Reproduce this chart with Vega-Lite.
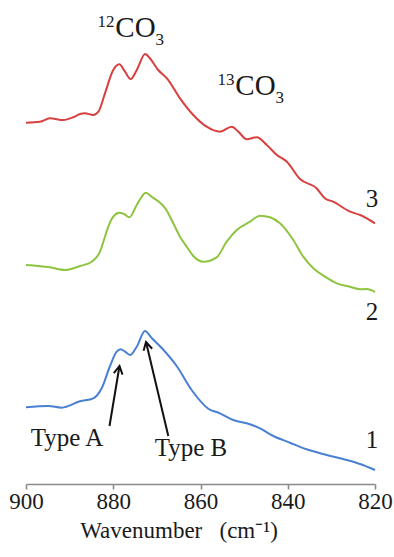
{
  "$schema": "https://vega.github.io/schema/vega-lite/v6.json",
  "width": 349,
  "height": 484,
  "autosize": "none",
  "padding": {"left": 26, "top": 0, "right": 19, "bottom": 73},
  "background": "white",
  "config": {"view": {"stroke": null}, "font": "Liberation Serif"},
  "datasets": {
    "spectra": [
      {"wn": 900, "a": 3.613, "s": "3"}, {"wn": 896.8, "a": 3.623, "s": "3"}, {"wn": 894.5, "a": 3.657, "s": "3"},
      {"wn": 891.45, "a": 3.64, "s": "3"}, {"wn": 889.2, "a": 3.667, "s": "3"}, {"wn": 887.6, "a": 3.70, "s": "3"},
      {"wn": 886.5, "a": 3.707, "s": "3"}, {"wn": 884.6, "a": 3.69, "s": "3"}, {"wn": 883.4, "a": 3.723, "s": "3"},
      {"wn": 881.9, "a": 3.907, "s": "3"}, {"wn": 880.0, "a": 4.14, "s": "3"}, {"wn": 878.6, "a": 4.197, "s": "3"},
      {"wn": 877.3, "a": 4.123, "s": "3"}, {"wn": 876.0, "a": 4.05, "s": "3"}, {"wn": 874.6, "a": 4.14, "s": "3"},
      {"wn": 872.7, "a": 4.30, "s": "3"}, {"wn": 871.6, "a": 4.257, "s": "3"}, {"wn": 869.7, "a": 4.14, "s": "3"},
      {"wn": 867.7, "a": 4.057, "s": "3"}, {"wn": 864.7, "a": 3.857, "s": "3"}, {"wn": 861.65, "a": 3.69, "s": "3"},
      {"wn": 858.6, "a": 3.573, "s": "3"}, {"wn": 855.5, "a": 3.523, "s": "3"}, {"wn": 852.85, "a": 3.573, "s": "3"},
      {"wn": 851.3, "a": 3.523, "s": "3"}, {"wn": 849.4, "a": 3.447, "s": "3"}, {"wn": 847.1, "a": 3.467, "s": "3"},
      {"wn": 844.8, "a": 3.39, "s": "3"}, {"wn": 842.5, "a": 3.29, "s": "3"}, {"wn": 840.2, "a": 3.223, "s": "3"},
      {"wn": 837.2, "a": 3.05, "s": "3"}, {"wn": 833.4, "a": 2.957, "s": "3"}, {"wn": 831.5, "a": 2.857, "s": "3"},
      {"wn": 829.6, "a": 2.823, "s": "3"}, {"wn": 825.7, "a": 2.723, "s": "3"}, {"wn": 823.4, "a": 2.69, "s": "3"},
      {"wn": 820, "a": 2.607, "s": "3"},

      {"wn": 900, "a": 2.19, "s": "2"}, {"wn": 894.5, "a": 2.167, "s": "2"}, {"wn": 891.06, "a": 2.14, "s": "2"},
      {"wn": 887.6, "a": 2.18, "s": "2"}, {"wn": 884.94, "a": 2.223, "s": "2"}, {"wn": 883.04, "a": 2.323, "s": "2"},
      {"wn": 881.9, "a": 2.473, "s": "2"}, {"wn": 881.13, "a": 2.573, "s": "2"}, {"wn": 880.0, "a": 2.673, "s": "2"},
      {"wn": 878.6, "a": 2.713, "s": "2"}, {"wn": 877.54, "a": 2.70, "s": "2"}, {"wn": 876.32, "a": 2.667, "s": "2"},
      {"wn": 874.62, "a": 2.79, "s": "2"}, {"wn": 872.5, "a": 2.913, "s": "2"}, {"wn": 871.19, "a": 2.873, "s": "2"},
      {"wn": 867.75, "a": 2.735, "s": "2"}, {"wn": 866.24, "a": 2.607, "s": "2"}, {"wn": 864.7, "a": 2.473, "s": "2"},
      {"wn": 863.16, "a": 2.373, "s": "2"}, {"wn": 861.65, "a": 2.28, "s": "2"}, {"wn": 859.36, "a": 2.223, "s": "2"},
      {"wn": 856.29, "a": 2.267, "s": "2"}, {"wn": 854.0, "a": 2.423, "s": "2"}, {"wn": 851.7, "a": 2.54, "s": "2"},
      {"wn": 848.65, "a": 2.623, "s": "2"}, {"wn": 846.36, "a": 2.683, "s": "2"}, {"wn": 844.07, "a": 2.667, "s": "2"},
      {"wn": 841.78, "a": 2.607, "s": "2"}, {"wn": 838.73, "a": 2.44, "s": "2"}, {"wn": 836.44, "a": 2.273, "s": "2"},
      {"wn": 834.14, "a": 2.157, "s": "2"}, {"wn": 831.46, "a": 2.073, "s": "2"}, {"wn": 828.78, "a": 2.007, "s": "2"},
      {"wn": 825.73, "a": 1.973, "s": "2"}, {"wn": 823.44, "a": 1.947, "s": "2"}, {"wn": 821.9, "a": 1.95, "s": "2"},
      {"wn": 820, "a": 1.92, "s": "2"},

      {"wn": 900, "a": 0.767, "s": "1"}, {"wn": 894.89, "a": 0.78, "s": "1"}, {"wn": 891.82, "a": 0.763, "s": "1"},
      {"wn": 887.62, "a": 0.827, "s": "1"}, {"wn": 884.57, "a": 0.857, "s": "1"}, {"wn": 882.65, "a": 0.957, "s": "1"},
      {"wn": 880.74, "a": 1.18, "s": "1"}, {"wn": 879.21, "a": 1.323, "s": "1"}, {"wn": 878.29, "a": 1.347, "s": "1"},
      {"wn": 877.31, "a": 1.323, "s": "1"}, {"wn": 876.16, "a": 1.29, "s": "1"}, {"wn": 874.62, "a": 1.373, "s": "1"},
      {"wn": 872.72, "a": 1.53, "s": "1"}, {"wn": 871.19, "a": 1.46, "s": "1"}, {"wn": 868.89, "a": 1.36, "s": "1"},
      {"wn": 865.46, "a": 1.18, "s": "1"}, {"wn": 861.95, "a": 0.935, "s": "1"}, {"wn": 858.21, "a": 0.753, "s": "1"},
      {"wn": 855.53, "a": 0.707, "s": "1"}, {"wn": 852.48, "a": 0.64, "s": "1"}, {"wn": 849.41, "a": 0.607, "s": "1"},
      {"wn": 846.36, "a": 0.557, "s": "1"}, {"wn": 843.31, "a": 0.48, "s": "1"}, {"wn": 839.48, "a": 0.413, "s": "1"},
      {"wn": 835.66, "a": 0.347, "s": "1"}, {"wn": 831.07, "a": 0.29, "s": "1"}, {"wn": 826.49, "a": 0.24, "s": "1"},
      {"wn": 823.44, "a": 0.20, "s": "1"}, {"wn": 820, "a": 0.14, "s": "1"}
    ],
    "labels": [
      {"wn": 890.6, "a": 0.38, "t": "Type A", "role": "big"},
      {"wn": 862.2, "a": 0.28, "t": "Type B", "role": "big"},
      {"wn": 820.69, "a": 0.36, "t": "1", "role": "big"},
      {"wn": 820.69, "a": 1.64, "t": "2", "role": "big"},
      {"wn": 820.69, "a": 2.773, "t": "3", "role": "big"},
      {"wn": 874.9, "a": 4.47, "t": "CO", "role": "co"},
      {"wn": 847.39, "a": 3.89, "t": "CO", "role": "co"},
      {"wn": 879.71, "a": 4.57, "t": "12", "role": "sup"},
      {"wn": 852.21, "a": 3.99, "t": "13", "role": "sup"},
      {"wn": 870.32, "a": 4.39, "t": "3", "role": "sub"},
      {"wn": 842.81, "a": 3.81, "t": "3", "role": "sub"}
    ],
    "arrows": [
      {"name": "A", "wn": 880.86, "a": 0.58, "wn2": 878.57, "a2": 1.18},
      {"name": "B", "wn": 867.38, "a": 0.48, "wn2": 872.49, "a2": 1.42}
    ]
  },
  "encoding": {
    "x": {
      "field": "wn", "type": "quantitative",
      "scale": {"domain": [820, 900], "reverse": true, "nice": false, "zero": false},
      "axis": {
        "values": [900, 880, 860, 840, 820],
        "grid": false,
        "domainColor": "#8a8a8a", "domainWidth": 1.6,
        "tickColor": "#8a8a8a", "tickWidth": 1.6, "tickSize": 5,
        "labelFont": "Liberation Serif", "labelFontSize": 23, "labelColor": "#1a1a1a",
        "labelPadding": 1, "labelFlush": false, "labelOverlap": false,
        "title": "Wavenumber\u00a0\u00a0\u00a0(cm\u207b\u00b9)",
        "titleFont": "Liberation Serif", "titleFontSize": 23, "titleFontWeight": "normal",
        "titleColor": "#1a1a1a", "titleX": 152.5, "titleY": 53, "titleBaseline": "alphabetic", "titleAlign": "center"
      }
    },
    "y": {
      "field": "a", "type": "quantitative",
      "scale": {"domain": [0, 4.84], "nice": false, "zero": false},
      "axis": null
    }
  },
  "layer": [
    {
      "data": {"name": "spectra"},
      "mark": {"type": "line", "interpolate": "monotone", "strokeWidth": 2},
      "encoding": {
        "color": {
          "field": "s", "type": "nominal", "legend": null,
          "scale": {"domain": ["1", "2", "3"], "range": ["#4a80d2", "#8ec43f", "#d8403f"]}
        }
      }
    },
    {
      "data": {"name": "arrows"},
      "mark": {"type": "rule", "color": "#111111", "strokeWidth": 2},
      "encoding": {
        "x2": {"field": "wn2"},
        "y2": {"field": "a2"}
      }
    },
    {
      "data": {"name": "arrows"},
      "transform": [{"filter": "datum.name === 'A'"}],
      "mark": {"type": "point", "shape": "M-0.55,1L0,0L0.55,1", "size": 256, "filled": false, "stroke": "#111111", "strokeWidth": 2, "opacity": 1, "angle": 9.5},
      "encoding": {
        "x": {"field": "wn2", "type": "quantitative"},
        "y": {"field": "a2", "type": "quantitative"}
      }
    },
    {
      "data": {"name": "arrows"},
      "transform": [{"filter": "datum.name === 'B'"}],
      "mark": {"type": "point", "shape": "M-0.55,1L0,0L0.55,1", "size": 256, "filled": false, "stroke": "#111111", "strokeWidth": 2, "opacity": 1, "angle": 346.7},
      "encoding": {
        "x": {"field": "wn2", "type": "quantitative"},
        "y": {"field": "a2", "type": "quantitative"}
      }
    },
    {
      "data": {"name": "labels"},
      "transform": [{"filter": "datum.role === 'big'"}],
      "mark": {"type": "text", "font": "Liberation Serif", "fontSize": 25, "align": "center", "baseline": "alphabetic", "color": "#1a1a1a"},
      "encoding": {"text": {"field": "t"}}
    },
    {
      "data": {"name": "labels"},
      "transform": [{"filter": "datum.role === 'co'"}],
      "mark": {"type": "text", "font": "Liberation Serif", "fontSize": 29, "align": "center", "baseline": "alphabetic", "color": "#1a1a1a"},
      "encoding": {"text": {"field": "t"}}
    },
    {
      "data": {"name": "labels"},
      "transform": [{"filter": "datum.role === 'sup'"}],
      "mark": {"type": "text", "font": "Liberation Serif", "fontSize": 17, "align": "right", "baseline": "alphabetic", "color": "#1a1a1a"},
      "encoding": {"text": {"field": "t"}}
    },
    {
      "data": {"name": "labels"},
      "transform": [{"filter": "datum.role === 'sub'"}],
      "mark": {"type": "text", "font": "Liberation Serif", "fontSize": 17, "align": "left", "baseline": "alphabetic", "color": "#1a1a1a"},
      "encoding": {"text": {"field": "t"}}
    }
  ]
}
